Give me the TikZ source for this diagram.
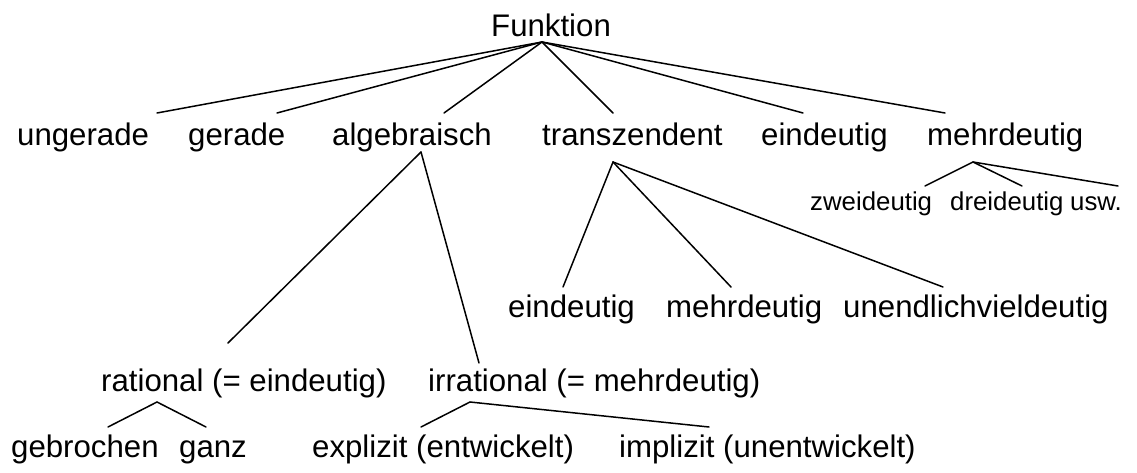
\documentclass[tikz,border=0pt]{standalone}
\usepackage{fontspec}
\setmainfont{Liberation Sans}
\begin{document}
\begin{tikzpicture}[x=1pt,y=-1pt,
  lbl/.style={anchor=base west,inner sep=0pt,font=\fontsize{31.2}{36}\selectfont},
  sml/.style={anchor=base west,inner sep=0pt,font=\fontsize{25.8}{30}\selectfont},
  edge/.style={line width=1.5pt,line cap=round}]
\useasboundingbox (0,0) rectangle (1137,473);
% nodes
\node[lbl] (F) at (491,37) {Funktion};
\node[lbl] (ung) at (17,146) {ungerade};
\node[lbl] (ger) at (188,146) {gerade};
\node[lbl] (alg) at (332,146) {algebraisch};
\node[lbl] (tra) at (542,146) {transzendent};
\node[lbl] (ein) at (761,146) {eindeutig};
\node[lbl] (meh) at (927,146) {mehrdeutig};
\node[sml] (zwe) at (810,211) {zweideutig};
\node[sml] (dre) at (950,211) {dreideutig};
\node[sml] (usw) at (1070,211) {usw.};
\node[lbl] (tein) at (508,317) {eindeutig};
\node[lbl] (tmeh) at (666,317) {mehrdeutig};
\node[lbl] (tune) at (843,317) {unendlichvieldeutig};
\node[lbl] (rat) at (101,391) {rational (= eindeutig)};
\node[lbl] (irr) at (428,391) {irrational (= mehrdeutig)};
\node[lbl] (geb) at (11,457) {gebrochen};
\node[lbl] (gan) at (179,457) {ganz};
\node[lbl] (exp) at (312,457) {explizit (entwickelt)};
\node[lbl] (imp) at (619,457) {implizit (unentwickelt)};
% connector points
\coordinate (Fa) at (542,42);
\coordinate (ungT) at (157,113);
\coordinate (gerT) at (277,113);
\coordinate (algT) at (444,113);
\coordinate (traT) at (613,113);
\coordinate (einT) at (803,113);
\coordinate (mehT) at (945,113);
\coordinate (Ma) at (973,162);
\coordinate (zweT) at (925,186);
\coordinate (dreT) at (1022,186);
\coordinate (uswT) at (1118,186);
\coordinate (Aa) at (421,152);
\coordinate (ratT) at (228,343);
\coordinate (irrT) at (479,363);
\coordinate (Ta) at (613,162);
\coordinate (teinT) at (563,287);
\coordinate (tmehT) at (731,287);
\coordinate (tuneT) at (943,287);
\coordinate (Ra) at (157,402);
\coordinate (gebT) at (108,427);
\coordinate (ganT) at (206,427);
\coordinate (Ia) at (470,402);
\coordinate (expT) at (421,427);
\coordinate (impT) at (709,427);
% connectors
\foreach \c in {ungT,gerT,algT,traT,einT,mehT} \draw[edge] (Fa) -- (\c);
\foreach \c in {zweT,dreT,uswT} \draw[edge] (Ma) -- (\c);
\foreach \c in {ratT,irrT} \draw[edge] (Aa) -- (\c);
\foreach \c in {teinT,tmehT,tuneT} \draw[edge] (Ta) -- (\c);
\foreach \c in {gebT,ganT} \draw[edge] (Ra) -- (\c);
\foreach \c in {expT,impT} \draw[edge] (Ia) -- (\c);
\end{tikzpicture}
\end{document}
